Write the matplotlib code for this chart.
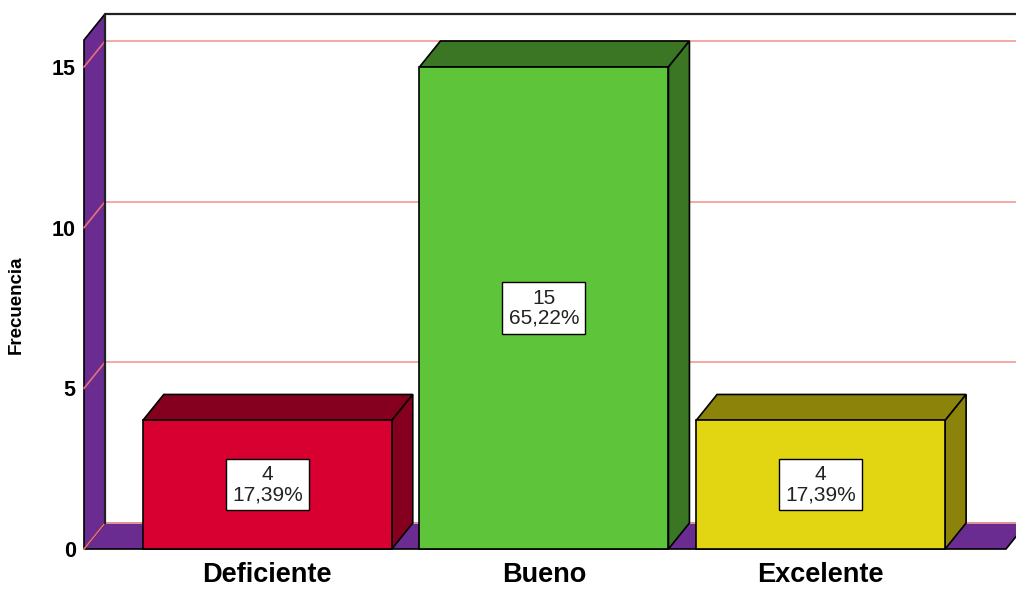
import numpy as np
import matplotlib
matplotlib.use("Agg")
from matplotlib import pyplot as plt
from matplotlib.patches import Polygon

categories = ["Deficiente", "Bueno", "Excelente"]
counts = [4, 15, 4]
percents = ["17,39%", "65,22%", "17,39%"]
yticks = [0, 5, 10, 15]

front_colors = ["#D70030", "#5EC43A", "#E2D512"]
dark_colors = ["#85001F", "#3A7624", "#8B830A"]
wall_color = "#6A2C91"
grid_color = "#F4A0A0"

plt.rcParams['font.family'] = ['Liberation Sans', 'DejaVu Sans']

fig = plt.figure(figsize=(10.16, 5.89), dpi=100)
# axes box = front plane of the 3D chart
ax = fig.add_axes([84 / 1016, 40 / 589, (1006 - 84) / 1016, (549 - 40) / 589])
x0, x1 = -0.6625, 2.67
ymax = 15.84
ax.set_xlim(x0, x1)
ax.set_ylim(0, ymax)

dx = 21 / 277      # depth offset in category units
dy = 26 / 32.13    # depth offset in value units
w = 0.9

def poly(pts, fc, z, ec="black", lw=1.2):
    p = Polygon(pts, closed=True, facecolor=fc, edgecolor=ec, linewidth=lw,
                zorder=z, clip_on=False, joinstyle="miter")
    ax.add_patch(p)

# floor
poly([(x0, 0), (x1, 0), (x1 + dx, dy), (x0 + dx, dy)], wall_color, 1)
# left wall
poly([(x0, 0), (x0, ymax), (x0 + dx, ymax + dy), (x0 + dx, dy)], wall_color, 1)

# gridlines on back wall and left wall
xr = x1 + 1.0
for v in yticks:
    ax.plot([x0 + dx, xr], [v + dy, v + dy], color=grid_color, lw=1.3, zorder=2, clip_on=False)
    ax.plot([x0, x0 + dx], [v, v + dy], color="#E8707A", lw=1.2, zorder=2, clip_on=False)
# back wall outline
ax.plot([x0 + dx, x0 + dx, xr], [dy, ymax + dy, ymax + dy], color="#222222", lw=1.6,
        zorder=2, clip_on=False)

# bars
for i, (h, fc, dc) in enumerate(zip(counts, front_colors, dark_colors)):
    l, r = i - w / 2, i + w / 2
    poly([(l, h), (r, h), (r + dx, h + dy), (l + dx, h + dy)], dc, 3)
    poly([(r, 0), (r + dx, dy), (r + dx, h + dy), (r, h)], dc, 3)
    poly([(l, 0), (r, 0), (r, h), (l, h)], fc, 4)
    ax.text(i, h / 2, "%d\n%s" % (h, percents[i]), ha="center", va="center",
            fontsize=15, linespacing=1.05, color="#222222", zorder=5,
            bbox=dict(boxstyle="square,pad=0.3", facecolor="white",
                      edgecolor="black", linewidth=1.0))

for s in ax.spines.values():
    s.set_visible(False)
ax.set_yticks(yticks)
ax.set_yticklabels([str(v) for v in yticks], fontsize=15.5, fontweight="bold")
ax.set_xticks(range(len(categories)))
ax.set_xticklabels(categories, fontsize=19.5, fontweight="bold")
ax.tick_params(axis="y", length=0, pad=6)
ax.tick_params(axis="x", length=0, pad=9)
ax.set_ylabel("Frecuencia", fontsize=13.5, fontweight="bold")
ax.yaxis.set_label_coords(-59 / 922, 0.48)

fig.savefig("out.png", dpi=100)
